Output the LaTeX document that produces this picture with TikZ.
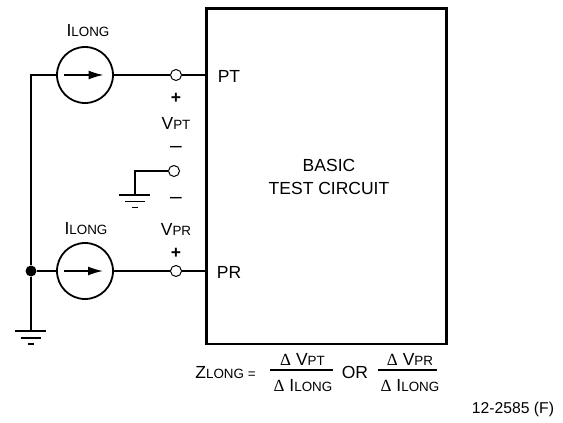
\documentclass[tikz,border=0pt]{standalone}
\usepackage{fontspec}
\setmainfont{Liberation Sans}
\newfontfamily\symf{Liberation Serif}
\usetikzlibrary{arrows.meta}
\newcommand{\bigt}{\fontsize{17.5}{20}\selectfont}
\newcommand{\smt}[1]{{\fontsize{13.4}{15}\selectfont #1}}
\newcommand{\dlt}{{\symf\fontsize{17}{20}\selectfont Δ}}
\tikzset{
  wire/.style={line width=1.7pt},
  src/.style={circle,draw,line width=1.8pt,minimum size=56pt,inner sep=0pt,fill=white},
  term/.style={circle,draw,line width=1pt,minimum size=11pt,inner sep=0pt,fill=white},
  dotn/.style={circle,fill=black,minimum size=11pt,inner sep=0pt},
  lab/.style={inner sep=0pt,font=\bigt,text=black},
  gnd/.style={line width=1.7pt},
  flow/.style={line width=1.6pt,-{Latex[length=15pt,width=9pt,sharp]}},
  fracline/.style={line width=1.4pt}
}
\begin{document}
\begin{tikzpicture}[x=1pt,y=-1pt]
\useasboundingbox (0,0) rectangle (563,423);
% box
\node[draw,line width=2.6pt,minimum width=240pt,minimum height=335.3pt,inner sep=0pt,anchor=north west] (box) at (205.3,7.3) {};
\coordinate (ptin) at (206,75);
\coordinate (prin) at (206,271);
% sources and terminals
\node[src] (s1) at (85,75) {};
\node[src] (s2) at (85,271) {};
\node[term] (t1) at (176,75) {};
\node[term] (t2) at (176,271) {};
\node[term] (t3) at (174,171) {};
\node[dotn] (j) at (31,271) {};
\coordinate (tl) at (31,75);
\coordinate (g1) at (31,331);
\coordinate (g2c) at (134.7,171);
\coordinate (g2) at (134.7,195);
% wires
\draw[wire] (s1) -- (tl) -- (j) -- (g1);
\draw[wire] (j) -- (s2);
\draw[wire] (s1) -- (t1);
\draw[wire] (t1) -- (ptin);
\draw[wire] (s2) -- (t2);
\draw[wire] (t2) -- (prin);
\draw[wire] (t3) -- (g2c) -- (g2);
% arrows in sources
\coordinate (a1s) at (64,75); \coordinate (a1e) at (103.5,75);
\coordinate (a2s) at (64,271); \coordinate (a2e) at (103,271);
\draw[flow] (a1s) -- (a1e);
\draw[flow] (a2s) -- (a2e);
% grounds
\draw[gnd] (15,331) -- (46,331) (21,338) -- (41,338) (28,344) -- (34,344);
\draw[gnd] (119,195) -- (150,195) (125,201.5) -- (145,201.5) (132,207.5) -- (138,207.5);
% labels
\node[lab] (l1) at (88,31) {I\smt{LONG}};
\node[lab] (l2) at (86,228.5) {I\smt{LONG}};
\node[lab] (p1) at (176,98) {\textbf{+}};
\node[lab] (v1) at (176,123) {V\smt{PT}};
\node[lab,font=\fontsize{21}{22}\selectfont] (m1) at (176,149) {–};
\node[lab,font=\fontsize{21}{22}\selectfont] (m2) at (176,200) {–};
\node[lab] (v2) at (176,229) {V\smt{PR}};
\node[lab] (p2) at (176,253) {\textbf{+}};
\node[lab] (pt) at (229,76) {PT};
\node[lab] (pr) at (229,272.5) {PR};
\node[lab] (bt1) at (329,165) {BASIC};
\node[lab] (bt2) at (329,188) {TEST CIRCUIT};
% formula
\node[lab] (z) at (225.5,372.5) {Z\smt{LONG =}};
\node[lab] (n1) at (302.5,359) {\dlt{} V\smt{PT}};
\node[lab] (d1) at (303,386) {\dlt{} I\smt{LONG}};
\node[lab] (or) at (355,372) {OR};
\node[lab] (n2) at (410,359) {\dlt{} V\smt{PR}};
\node[lab] (d2) at (410,386) {\dlt{} I\smt{LONG}};
\coordinate (f1a) at (270,370); \coordinate (f1b) at (333,370);
\coordinate (f2a) at (378,370); \coordinate (f2b) at (437,370);
\draw[fracline] (f1a) -- (f1b);
\draw[fracline] (f2a) -- (f2b);
\node[inner sep=0pt,font=\fontsize{15.7}{18}\selectfont] (code) at (513,409) {12-2585 (F)};
\end{tikzpicture}
\end{document}
